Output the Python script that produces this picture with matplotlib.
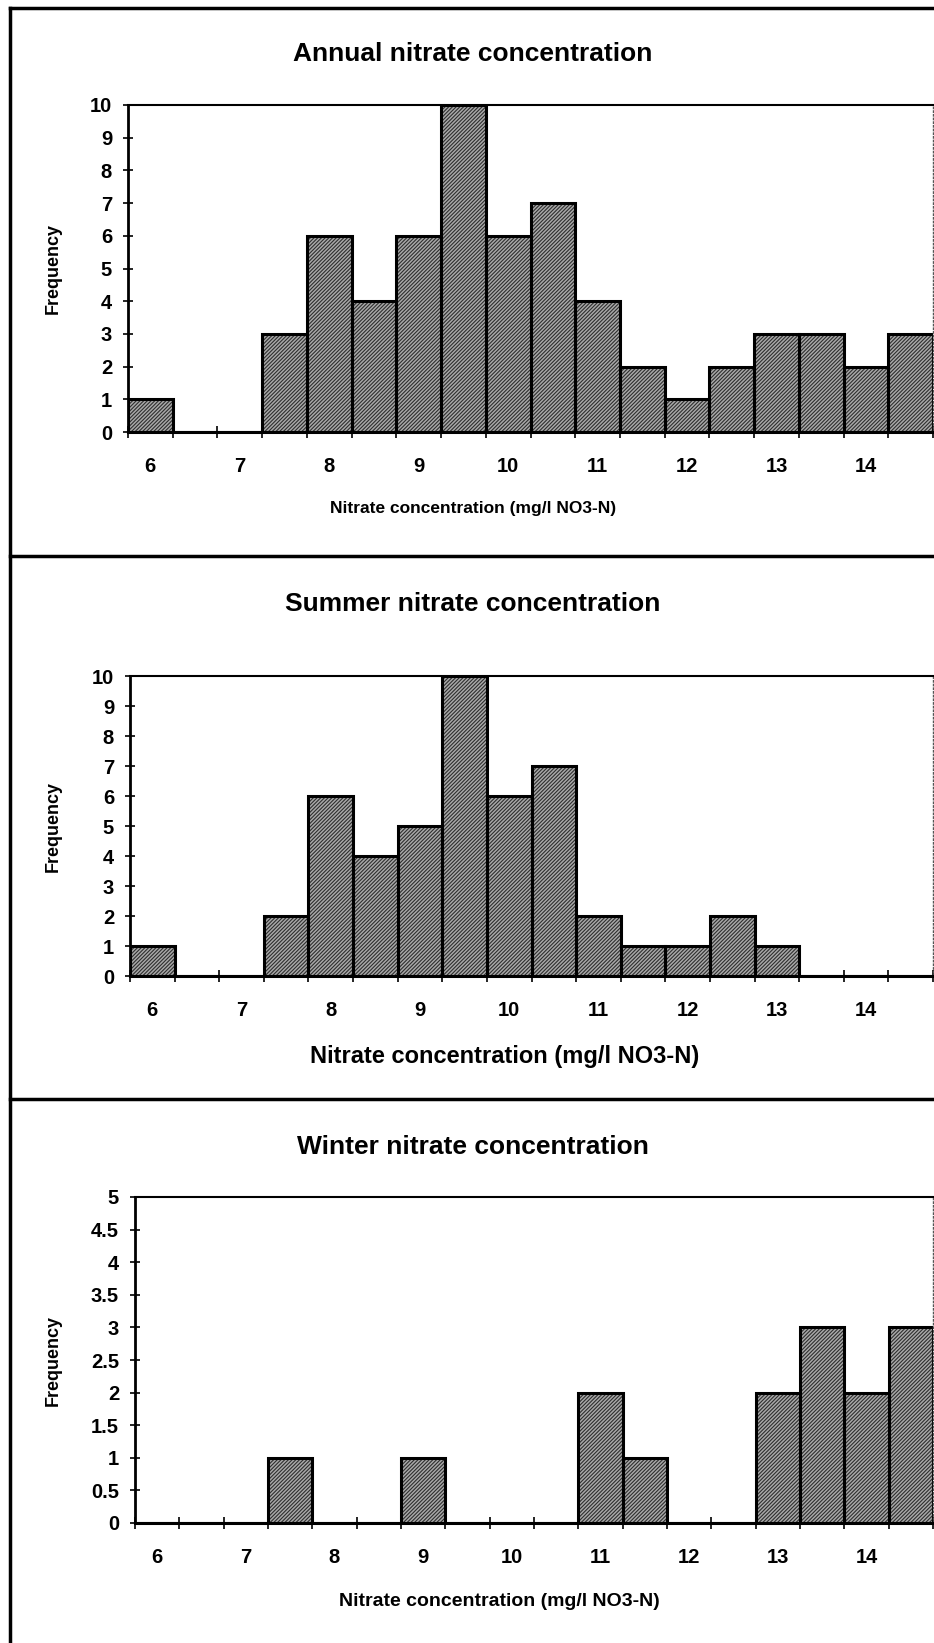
import numpy as np
import matplotlib
matplotlib.use('Agg')
import matplotlib.pyplot as plt
from matplotlib.lines import Line2D
from matplotlib.ticker import FormatStrFormatter

plt.rcParams['font.family'] = ['Liberation Sans', 'DejaVu Sans']
plt.rcParams['font.weight'] = 'bold'
plt.rcParams['hatch.linewidth'] = 0.8

# bin centres (0.5 mg/l bins) and frequencies
bin_centres = [6.0, 6.5, 7.0, 7.5, 8.0, 8.5, 9.0, 9.5, 10.0, 10.5,
               11.0, 11.5, 12.0, 12.5, 13.0, 13.5, 14.0, 14.5]
annual = [1, 0, 0, 3, 6, 4, 6, 10, 6, 7, 4, 2, 1, 2, 3, 3, 2, 3]
summer = [1, 0, 0, 2, 6, 4, 5, 10, 6, 7, 2, 1, 1, 2, 1, 0, 0, 0]
winter = [0, 0, 0, 1, 0, 0, 1, 0, 0, 0, 2, 1, 0, 0, 2, 3, 2, 3]
x_labels = [6, 7, 8, 9, 10, 11, 12, 13, 14]

W, H = 934, 1643
fig = plt.figure(figsize=(W / 100, H / 100), dpi=100)


def fy(px):
    return 1 - px / H


# title, counts, ymax, ystep, then layout in px:
# axes left, top, bottom, title y, xlabel x, xlabel y, xlabel size (the scan differs per panel)
panels = [
    ('Annual nitrate concentration', annual, 10, 1, (128, 105, 432, 54, 473, 509, 12.5)),
    ('Summer nitrate concentration', summer, 10, 1, (130, 676, 976, 604, 505, 1056, 17)),
    ('Winter nitrate concentration', winter, 5, 0.5, (135, 1197, 1523, 1147, 499, 1601, 14)),
]

width = 0.5
edges = np.arange(5.75, 15.0, 0.5)

for title, counts, ymax, ystep, (left, top, bottom, ty, xx, xy, xls) in panels:
    ax = fig.add_axes([left / W, fy(bottom), (933 - left) / W, (bottom - top) / H])
    ax.bar(bin_centres, counts, width=width, color='#a9a9a9', edgecolor='#2e2e2e',
           hatch='/' * 9, linewidth=0)
    ax.bar(bin_centres, counts, width=width, fill=False, edgecolor='black', linewidth=2.2)
    ax.set_xlim(5.75, 14.75)
    ax.set_ylim(0, ymax)
    ax.set_yticks(np.arange(0, ymax + ystep / 2, ystep))
    ax.yaxis.set_major_formatter(FormatStrFormatter('%g'))
    ax.set_xticks(edges)
    ax.set_xticklabels([])
    ax.set_xticks(x_labels, minor=True)
    ax.set_xticklabels([str(v) for v in x_labels], minor=True)
    ax.tick_params(axis='x', which='major', direction='inout', length=8, width=1.2)
    ax.tick_params(axis='x', which='minor', length=0, pad=18, labelsize=14.5)
    ax.tick_params(axis='y', direction='inout', length=7, width=1.2, pad=8, labelsize=14.5)
    ax.spines['left'].set_linewidth(2)
    ax.spines['bottom'].set_linewidth(2.2)
    ax.spines['top'].set_linewidth(1.5)
    ax.spines['right'].set_linewidth(1)
    ax.spines['right'].set_linestyle(':')
    ax.spines['right'].set_color('#555555')

    fig.text(473 / W, fy(ty), title, ha='center', va='center', fontsize=19, fontweight='bold')
    fig.text(xx / W, fy(xy), 'Nitrate concentration (mg/l NO3-N)', ha='center',
             va='center', fontsize=xls, fontweight='bold')
    fig.text(53 / W, fy((top + bottom) / 2), 'Frequency', rotation=90, ha='center',
             va='center', fontsize=13, fontweight='bold')

# outer panel frame from the scanned page
fig.add_artist(Line2D([10 / W, 10 / W], [0, fy(8)], color='black', linewidth=2.5))
for yline in (8, 556, 1099):
    fig.add_artist(Line2D([10 / W, 1], [fy(yline), fy(yline)], color='black', linewidth=2.5))

fig.savefig('out.png', dpi=100)
